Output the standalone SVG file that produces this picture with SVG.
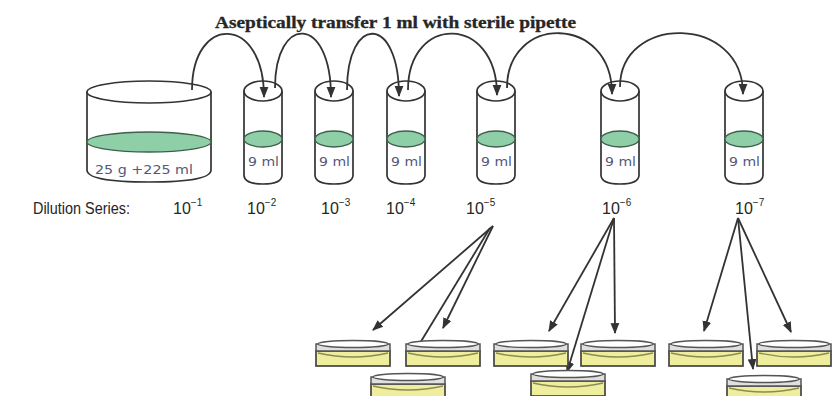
<svg xmlns="http://www.w3.org/2000/svg" width="832" height="396" viewBox="0 0 832 396">
  <defs>
    <style>
      .ink { stroke: #333333; stroke-width: 1.8; fill: none; }
      .glass { stroke: #333333; stroke-width: 1.7; fill: #ffffff; }
      .liquid { stroke: #3f5f4a; stroke-width: 1.3; fill: #8fcfa8; }
      .vol { font-family: "DejaVu Sans", "Liberation Sans", sans-serif; font-size: 12px; fill: #55577a; }
      .lbl { font-family: "Liberation Sans", "DejaVu Sans", sans-serif; font-size: 16px; fill: #262626; }
      .sup { font-size: 10px; }
      .title { font-family: "Liberation Serif", "DejaVu Serif", serif; font-size: 16px; font-weight: bold; fill: #262626; stroke: #262626; stroke-width: 0.3; }
      .lid { fill: #e0e0e0; stroke: #555; stroke-width: 1.5; }
      .lidtop { fill: #ffffff; stroke: #555; stroke-width: 1.4; }
      .agar { fill: #eeee9c; stroke: #444; stroke-width: 1.7; }
      .surf { fill: none; stroke: #8a8a5a; stroke-width: 1.3; }
    </style>
    <marker id="tip" viewBox="0 0 10 10" refX="9" refY="5" markerWidth="11" markerHeight="11" orient="auto" markerUnits="userSpaceOnUse">
      <path d="M0 1 L10 5 L0 9 Z" fill="#333333"/>
    </marker>
    <!-- test tube, centred on x=0 -->
    <g id="tube">
      <path class="glass" d="M-19 91 V175 Q-19 184 0 184 Q19 184 19 175 V91"/>
      <ellipse class="glass" cx="0" cy="91" rx="19" ry="10"/>
      <ellipse class="liquid" cx="0" cy="139" rx="19" ry="8"/>
      <text class="vol" x="-15" y="166" textLength="31" lengthAdjust="spacingAndGlyphs">9 ml</text>
    </g>
    <!-- petri dish, top-left origin -->
    <g id="plate">
      <rect class="agar" x="0" y="11" width="74" height="15"/>
      <path class="surf" d="M2 13 Q37 21 72 13"/>
      <rect class="lid" x="0" y="4" width="74" height="7"/>
      <ellipse class="lidtop" cx="37" cy="4" rx="35" ry="3.5"/>
    </g>
  </defs>

  <rect width="832" height="396" fill="#ffffff"/>

  <text class="title" x="215" y="28" textLength="361" lengthAdjust="spacingAndGlyphs">Aseptically transfer 1 ml with sterile pipette</text>

  <!-- sample container -->
  <g id="beaker">
    <path class="glass" d="M87 92 V170 Q87 182 149 182 Q211 182 211 170 V92"/>
    <ellipse class="glass" cx="149" cy="92" rx="62" ry="11"/>
    <ellipse class="liquid" cx="149" cy="142" rx="62" ry="10"/>
    <text class="vol" x="95" y="174" textLength="98" lengthAdjust="spacingAndGlyphs">25 g +225 ml</text>
  </g>

  <g id="tube2"><use href="#tube" x="263"/></g>
  <g id="tube3"><use href="#tube" x="334"/></g>
  <g id="tube4"><use href="#tube" x="406"/></g>
  <g id="tube5"><use href="#tube" x="496"/></g>
  <g id="tube6"><use href="#tube" x="620"/></g>
  <g id="tube7"><use href="#tube" x="744"/></g>

  <!-- transfer arcs -->
  <g id="transfers" class="ink" marker-end="url(#tip)">
    <path d="M192 90 C192 14 264 14 264 97"/>
    <path d="M275 88 C275 14 331 14 331 97"/>
    <path d="M347 90 C347 14 399 14 399 96"/>
    <path d="M408 90 C408 14 497 14 497 95"/>
    <path d="M507 88 C507 14 612 14 612 94"/>
    <path d="M620 87 C620 14 743 14 743 94"/>
  </g>

  <text class="lbl" x="33" y="214" textLength="97" lengthAdjust="spacingAndGlyphs">Dilution Series:</text>
  <text class="lbl" x="173" y="214">10<tspan class="sup" dy="-8">−1</tspan></text>
  <text class="lbl" x="247" y="214">10<tspan class="sup" dy="-8">−2</tspan></text>
  <text class="lbl" x="321" y="214">10<tspan class="sup" dy="-8">−3</tspan></text>
  <text class="lbl" x="386" y="214">10<tspan class="sup" dy="-8">−4</tspan></text>
  <text class="lbl" x="466" y="214">10<tspan class="sup" dy="-8">−5</tspan></text>
  <text class="lbl" x="602" y="214">10<tspan class="sup" dy="-8">−6</tspan></text>
  <text class="lbl" x="735" y="214">10<tspan class="sup" dy="-8">−7</tspan></text>

  <!-- plating arrows -->
  <g id="plating" class="ink" marker-end="url(#tip)">
    <path d="M493 226 L373 330"/>
    <path d="M493 226 L443 328"/>
    <path d="M490 228 L417 348" marker-end="none"/>
    <path d="M614 218 L549 331"/>
    <path d="M614 218 L615 333"/>
    <path d="M614 218 L567 372"/>
    <path d="M738 218 L704 331"/>
    <path d="M738 218 L791 332"/>
    <path d="M738 218 L753 369"/>
  </g>

  <g id="plate1"><use href="#plate" x="316" y="340"/></g>
  <g id="plate2"><use href="#plate" x="406" y="340"/></g>
  <g id="plate3"><use href="#plate" x="494" y="340"/></g>
  <g id="plate4"><use href="#plate" x="581" y="340"/></g>
  <g id="plate5"><use href="#plate" x="669" y="340"/></g>
  <g id="plate6"><use href="#plate" x="757" y="340"/></g>
  <g id="plate7"><use href="#plate" x="371" y="373"/></g>
  <g id="plate8"><use href="#plate" x="531" y="370"/></g>
  <g id="plate9"><use href="#plate" x="727" y="375"/></g>
</svg>
